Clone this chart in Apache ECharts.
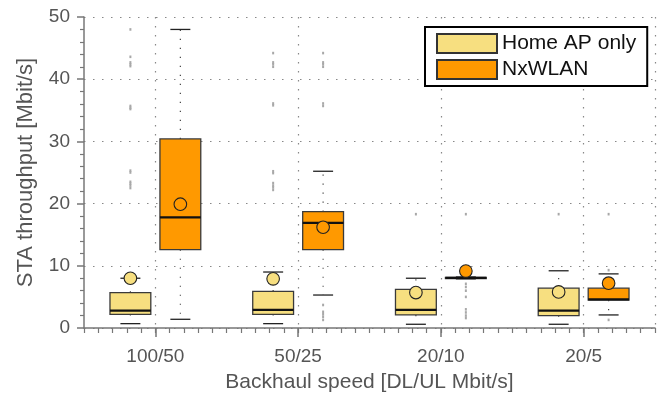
<!DOCTYPE html>
<html>
<head>
<meta charset="utf-8">
<script src="https://cdn.jsdelivr.net/npm/echarts@6/dist/echarts.min.js"></script>
<style>
  html, body { margin: 0; padding: 0; background: #fff; }
  #chart { width: 660px; height: 394px; }
</style>
</head>
<body>
<div id="chart"></div>
<script>
// Backhaul speed groups on the x axis
const categories = ['100/50', '50/25', '20/10', '20/5'];
const seriesNames = ['Home AP only', 'NxWLAN'];

// Per group: [lower whisker, Q1, median, Q3, upper whisker, mean]  (Mbit/s)
const homeApStats = [
  [0.7, 2.2, 2.8, 5.7, 8.0, 8.0],
  [0.7, 2.2, 2.9, 5.9, 9.0, 7.9],
  [0.6, 2.1, 2.9, 6.2, 8.0, 5.7],
  [0.6, 2.0, 2.8, 6.4, 9.2, 5.8]
];
const nxwlanStats = [
  [1.4, 12.6, 17.8, 30.4, 48.0, 19.9],
  [5.3, 12.6, 16.9, 18.7, 25.2, 16.2],
  [7.9, 7.95, 8.05, 8.15, 8.2, 9.15],
  [2.1, 4.5, 4.6, 6.4, 8.7, 7.2]
];

// Outliers: [group index, throughput]
const homeApOutliers = [
  [0, 48.0], [0, 43.6], [0, 42.7], [0, 42.4], [0, 42.1], [0, 35.7], [0, 35.4], [0, 35.2],
  [0, 25.3], [0, 25.0], [0, 23.5], [0, 23.2], [0, 22.9], [0, 22.5],
  [1, 44.2], [1, 42.7], [1, 42.4], [1, 42.0], [1, 36.1], [1, 35.8],
  [1, 25.2], [1, 24.9], [1, 23.3], [1, 22.9], [1, 22.6], [1, 22.2],
  [2, 18.3],
  [3, 18.3]
];
const nxwlanOutliers = [
  [1, 44.2], [1, 42.7], [1, 42.4], [1, 42.0], [1, 36.1], [1, 35.7],
  [1, 3.7], [1, 2.6], [1, 2.2], [1, 1.8], [1, 1.3],
  [2, 18.3], [2, 7.1], [2, 6.6], [2, 6.0], [2, 5.0], [2, 3.0], [2, 2.5], [2, 2.0], [2, 1.6],
  [3, 18.3], [3, 9.3], [3, 1.3]
];

const yTicks = { min: 0, max: 50, interval: 10 };
const colors = ['#F7DF80', '#FF9900'];
const FONT = 'Liberation Sans';
const AXIS_GREY = '#777';

// horizontal shift of each series inside its band, as a fraction of band width
const SHIFT = [-0.175, 0.175];

function boxRenderer(shift, fill) {
  return function (params, api) {
    const cat = api.value(0);
    const band = api.size([1, 0])[0];
    const cx = api.coord([cat, 0])[0] + shift * band;
    const boxHalf = band * 0.143;
    const capHalf = band * 0.07;
    const py = (i) => api.coord([cat, api.value(i)])[1];
    const lo = py(1), q1 = py(2), med = py(3), q3 = py(4), hi = py(5), mean = py(6);
    const dotted = { stroke: '#444', lineWidth: 1.2, lineDash: [1.2, 7.8] };
    const cap = { stroke: '#222', lineWidth: 1.3 };
    return {
      type: 'group',
      children: [
        { type: 'line', shape: { x1: cx, y1: q3, x2: cx, y2: hi }, style: dotted },
        { type: 'line', shape: { x1: cx, y1: q1, x2: cx, y2: lo }, style: dotted },
        { type: 'line', shape: { x1: cx - capHalf, y1: hi, x2: cx + capHalf, y2: hi }, style: cap },
        { type: 'line', shape: { x1: cx - capHalf, y1: lo, x2: cx + capHalf, y2: lo }, style: cap },
        { type: 'rect', shape: { x: cx - boxHalf, y: q3, width: 2 * boxHalf, height: Math.max(q1 - q3, 1) },
          style: { fill: fill, stroke: '#3a3a3a', lineWidth: 1.3 } },
        { type: 'line', shape: { x1: cx - boxHalf, y1: med, x2: cx + boxHalf, y2: med },
          style: { stroke: '#111', lineWidth: 2.2 } },
        { type: 'circle', shape: { cx: cx, cy: mean, r: 6.3 },
          style: { fill: fill, stroke: '#222', lineWidth: 1.1 } }
      ]
    };
  };
}

function outlierRenderer(shift) {
  return function (params, api) {
    const cat = api.value(0);
    const band = api.size([1, 0])[0];
    const p = api.coord([cat, api.value(1)]);
    const cx = p[0] + shift * band;
    return {
      type: 'rect',
      shape: { x: cx - 1, y: p[1] - 1.3, width: 2, height: 2.6 },
      style: { fill: '#a8a8a8' }
    };
  };
}

const chart = echarts.init(document.getElementById('chart'), null, { renderer: 'canvas' });

chart.setOption({
  animation: false,
  backgroundColor: '#fff',
  textStyle: { fontFamily: FONT },
  grid: { left: 84, right: 5, top: 17, bottom: 66, containLabel: false, outerBoundsMode: 'none' },
  legend: {
    left: 425,
    top: 27,
    orient: 'vertical',
    data: seriesNames,
    icon: 'rect',
    itemWidth: 60,
    itemHeight: 19,
    itemGap: 5,
    padding: [6, 11, 6, 11],
    borderColor: '#000',
    borderWidth: 2,
    backgroundColor: '#fff',
    borderRadius: 0,
    textStyle: { fontFamily: FONT, fontSize: 21, color: '#111' }
  },
  xAxis: [
    {
      type: 'category',
      data: categories,
      position: 'bottom',
      boundaryGap: true,
      axisLine: { show: true, lineStyle: { color: AXIS_GREY, width: 1.5 } },
      axisTick: { show: true, alignWithLabel: true, length: 9, lineStyle: { color: AXIS_GREY, width: 1.5 } },
      axisLabel: { fontFamily: FONT, fontSize: 19, color: '#555', margin: 19 },
      splitLine: { show: false },
      name: 'Backhaul speed [DL/UL Mbit/s]',
      nameLocation: 'middle',
      nameGap: 44,
      nameTextStyle: { fontFamily: FONT, fontSize: 21, color: '#555' }
    },
    {
      // fine ticks (ten per group) and the dotted guide at each group centre
      type: 'category',
      data: new Array(categories.length * 10).fill(''),
      position: 'bottom',
      boundaryGap: true,
      axisLine: { show: false },
      axisTick: { show: true, interval: 0, length: 5, lineStyle: { color: AXIS_GREY, width: 1.2 } },
      axisLabel: { show: false },
      splitLine: {
        show: true,
        interval: (i) => i % 10 === 5,
        lineStyle: { color: '#888', width: 1.2, type: [1.5, 7.5] }
      }
    }
  ],
  yAxis: {
    type: 'value',
    min: yTicks.min,
    max: yTicks.max,
    interval: yTicks.interval,
    axisLine: { show: true, lineStyle: { color: AXIS_GREY, width: 1.5 } },
    axisTick: { show: true, length: 7, lineStyle: { color: AXIS_GREY, width: 1.5 } },
    minorTick: { show: true, splitNumber: 5, length: 4, lineStyle: { color: AXIS_GREY, width: 1.2 } },
    axisLabel: { fontFamily: FONT, fontSize: 19, color: '#555', margin: 14 },
    splitLine: { show: true, lineStyle: { color: '#888', width: 1.2, type: [1.5, 7.5] } },
    name: 'STA throughput [Mbit/s]',
    nameLocation: 'middle',
    nameGap: 47,
    nameTextStyle: { fontFamily: FONT, fontSize: 22, color: '#555' }
  },
  series: [
    {
      name: seriesNames[0],
      type: 'custom',
      xAxisIndex: 0,
      renderItem: outlierRenderer(SHIFT[0]),
      data: homeApOutliers,
      encode: { x: 0, y: 1 },
      itemStyle: { color: colors[0], borderColor: '#333', borderWidth: 1 },
      z: 2
    },
    {
      name: seriesNames[1],
      type: 'custom',
      xAxisIndex: 0,
      renderItem: outlierRenderer(SHIFT[1]),
      data: nxwlanOutliers,
      encode: { x: 0, y: 1 },
      itemStyle: { color: colors[1], borderColor: '#333', borderWidth: 1 },
      z: 2
    },
    {
      name: seriesNames[0],
      type: 'custom',
      xAxisIndex: 0,
      renderItem: boxRenderer(SHIFT[0], colors[0]),
      data: homeApStats.map((s, i) => [i].concat(s)),
      encode: { x: 0, y: [1, 2, 3, 4, 5, 6] },
      itemStyle: { color: colors[0], borderColor: '#333', borderWidth: 1 },
      z: 3
    },
    {
      name: seriesNames[1],
      type: 'custom',
      xAxisIndex: 0,
      renderItem: boxRenderer(SHIFT[1], colors[1]),
      data: nxwlanStats.map((s, i) => [i].concat(s)),
      encode: { x: 0, y: [1, 2, 3, 4, 5, 6] },
      itemStyle: { color: colors[1], borderColor: '#333', borderWidth: 1 },
      z: 3
    }
  ]
});
</script>
</body>
</html>
